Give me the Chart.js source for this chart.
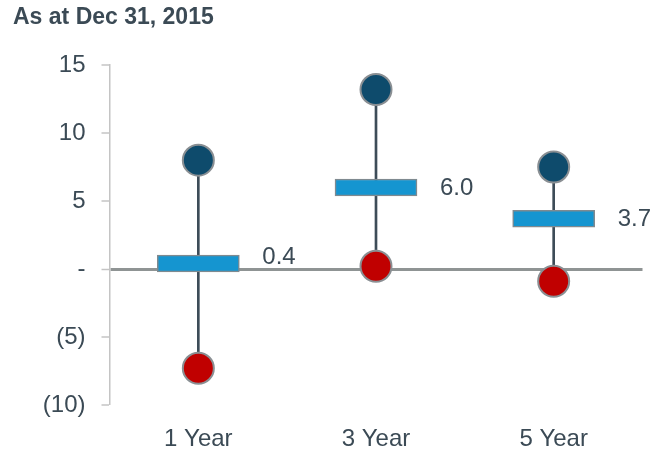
<!DOCTYPE html>
<html>
<head>
<meta charset="utf-8">
<script src="https://cdn.jsdelivr.net/npm/chart.js@4/dist/chart.umd.min.js"></script>
<style>
  html, body { margin: 0; padding: 0; background: #fff; }
  #wrap { width: 660px; height: 451px; position: relative; }
</style>
</head>
<body>
<div id="wrap"><canvas id="rangeChart"></canvas></div>
<script>
// Return ranges per horizon
const categories = ['1 Year', '3 Year', '5 Year'];
const highs = [8.0, 13.2, 7.5];
const lows = [-7.3, 0.2, -0.9];
const medians = [0.4, 6.0, 3.7];
const yTicks = [15, 10, 5, 0, -5, -10];

const FONT = "'Liberation Sans', Arial, sans-serif";
const TEXT = '#3b4a55';
const BOX_HALF = 0.62;

// Format ticks: zero as a dash, negatives in brackets
function fmt(v) {
	if (v === 0) return '-';
	if (v < 0) return '(' + Math.abs(v) + ')';
	return String(v);
}

// Title in the top left corner
const titlePlugin = {
	id: 'titleText',
	afterDraw(chart) {
		const c = chart.ctx;
		c.save();
		c.font = 'bold 23px ' + FONT;
		c.fillStyle = TEXT;
		c.textBaseline = 'middle';
		c.textAlign = 'left';
		c.fillText('As at Dec 31, 2015', 13, 18);
		c.restore();
	},
};

// Value labels to the right of each box
const valueLabels = {
	id: 'valueLabels',
	afterDatasetsDraw(chart) {
		const c = chart.ctx;
		const meta = chart.getDatasetMeta(1);
		const zeroY = chart.scales.y.getPixelForValue(0);
		c.save();
		c.font = '24px ' + FONT;
		c.fillStyle = TEXT;
		c.textAlign = 'left';
		meta.data.forEach((bar, i) => {
			const x = bar.x + bar.width / 2 + 23;
			const mid = (bar.y + bar.base) / 2;
			if (Math.abs(mid - zeroY) < 12) {
				c.textBaseline = 'alphabetic';
				c.fillText(medians[i].toFixed(1), x, zeroY - 5);
			} else {
				c.textBaseline = 'middle';
				c.fillText(medians[i].toFixed(1), x, mid + 1);
			}
		});
		c.restore();
	},
};

const ctx = document.getElementById('rangeChart').getContext('2d');

const chart = new Chart(ctx, {
	type: 'bar',
	data: {
		labels: categories,
		datasets: [
			{
				// whisker from low to high
				type: 'bar',
				data: lows.map((l, i) => [l, highs[i]]),
				backgroundColor: '#3d4c58',
				barThickness: 2,
				grouped: false,
				order: 3,
			},
			{
				// median box
				type: 'bar',
				data: medians.map((m) => [m - BOX_HALF, m + BOX_HALF]),
				backgroundColor: '#1595d0',
				borderColor: '#7f8a90',
				borderWidth: 1.5,
				borderSkipped: false,
				barThickness: 82,
				grouped: false,
				order: 2,
			},
			{
				type: 'line',
				data: highs,
				showLine: false,
				pointRadius: 15.5,
				pointHoverRadius: 15.5,
				pointBackgroundColor: '#0e4b6c',
				pointBorderColor: '#8a8f93',
				pointBorderWidth: 2,
				order: 1,
			},
			{
				type: 'line',
				data: lows,
				showLine: false,
				pointRadius: 15.5,
				pointHoverRadius: 15.5,
				pointBackgroundColor: '#c00000',
				pointBorderColor: '#8a8f93',
				pointBorderWidth: 2,
				order: 1,
			},
		],
	},
	options: {
		responsive: true,
		maintainAspectRatio: false,
		animation: false,
		layout: { padding: { top: 65, right: 9, left: 0, bottom: 0 } },
		plugins: {
			legend: { display: false },
			tooltip: { enabled: false },
			title: { display: false },
		},
		scales: {
			x: {
				grid: { display: false },
				border: { display: false },
				ticks: {
					color: TEXT,
					font: { family: FONT, size: 24 },
					padding: 12,
				},
				afterFit(scale) { scale.height = 46; },
			},
			y: {
				min: -10,
				max: 15,
				afterBuildTicks(scale) {
					scale.ticks = yTicks.map((v) => ({ value: v }));
				},
				grid: {
					color: (c) => (c.tick && c.tick.value === 0 ? '#8f9494' : 'rgba(0,0,0,0)'),
					lineWidth: (c) => (c.tick && c.tick.value === 0 ? 3 : 0),
					drawTicks: true,
					tickLength: 8,
					tickColor: '#c4c4c4',
					tickWidth: 1.5,
				},
				border: { display: true, color: '#c4c4c4', width: 1.5 },
				ticks: {
					color: TEXT,
					font: { family: FONT, size: 24 },
					padding: 16,
					callback: (v) => fmt(v),
				},
				afterFit(scale) { scale.width = 109.5; },
			},
		},
	},
	plugins: [titlePlugin, valueLabels],
});
</script>
</body>
</html>
